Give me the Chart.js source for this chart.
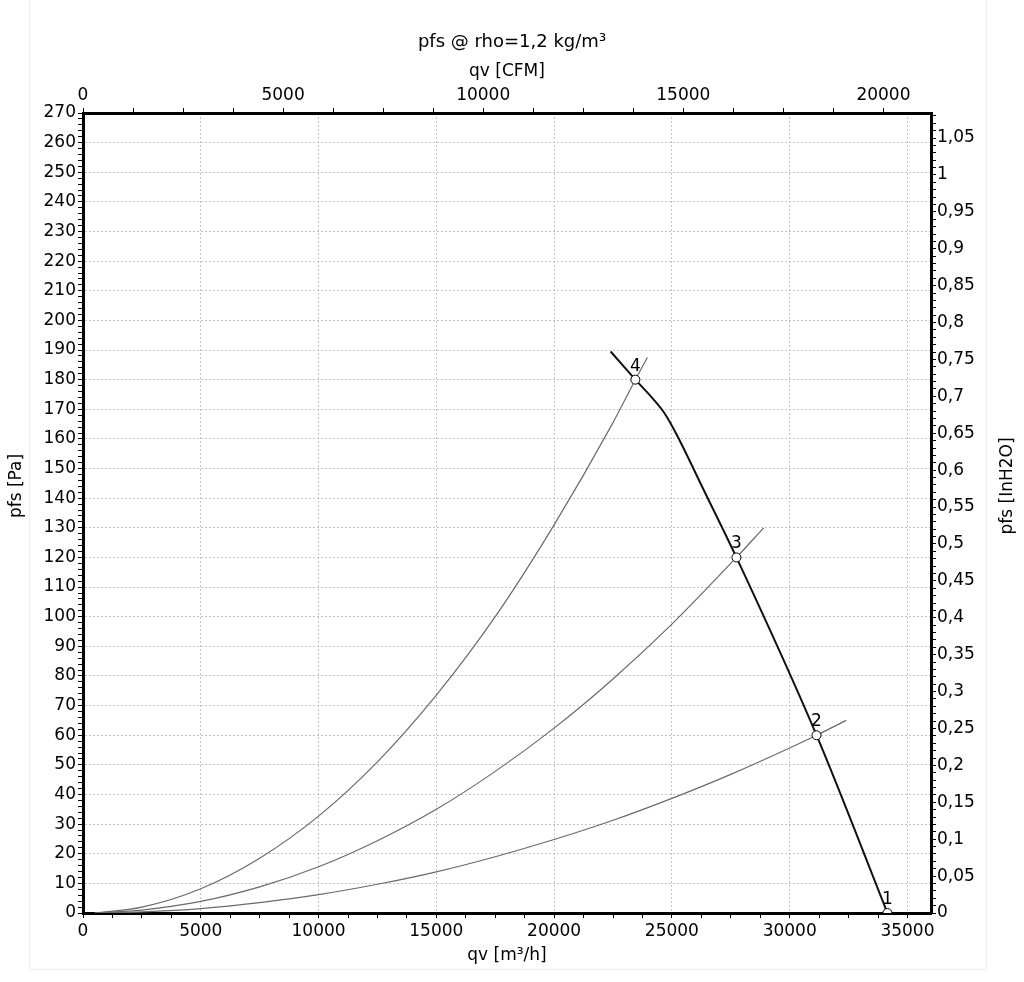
<!DOCTYPE html>
<html>
<head>
<meta charset="utf-8">
<script src="https://cdn.jsdelivr.net/npm/chart.js@4.4.1/dist/chart.umd.min.js"></script>
<style>
html,body{margin:0;padding:0;background:#fff;}
#wrap{position:relative;width:1024px;height:982px;overflow:hidden;}
#frame{position:absolute;left:29px;top:-2px;width:958px;height:972px;border:1px solid #ededed;box-sizing:border-box;pointer-events:none;}
</style>
</head>
<body>
<div id="wrap"><canvas id="c" width="1024" height="982"></canvas><div id="frame"></div></div>
<script>
// ---- data ----
const FAN_Q = [22400, 23450, 24200, 24700, 25200, 26300, 27740, 31140, 34150];
const FAN_P = [189.5, 180, 173.5, 168.5, 161.5, 143.6, 120, 60, 0];

const SYS4_Q = [500, 2500, 5000, 7500, 10000, 12500, 15000, 17500, 20000, 22500, 23450, 23960];
const SYS4_P = [0, 2, 8.2, 18.5, 32.7, 51, 73.5, 100, 131, 165.5, 180, 187.5];

const SYS3_Q = [500, 2500, 5000, 7500, 10000, 12500, 15000, 17500, 20000, 22500, 25000, 27740, 28900];
const SYS3_P = [0, 1, 3.9, 8.8, 15.6, 24.4, 35, 47.8, 62.4, 79, 97.5, 120, 130];

const SYS2_Q = [500, 2500, 5000, 7500, 10000, 12500, 15000, 17500, 20000, 22500, 25000, 27500, 30000, 31140, 32400];
const SYS2_P = [0, 0.4, 1.5, 3.5, 6.2, 9.7, 13.9, 19, 24.8, 31.3, 38.7, 46.8, 55.7, 60, 65];

const OP_Q = [34150, 31140, 27740, 23450];
const OP_P = [0, 60, 120, 180];
const OP_LABELS = ['1', '2', '3', '4'];

// axes
const X_MIN = 0, X_MAX = 36000;
const X_LABELS = [0, 5000, 10000, 15000, 20000, 25000, 30000, 35000];      // m³/h
const X2_LABELS = [0, 5000, 10000, 15000, 20000];                           // CFM
const X_MINOR = 1250, X2_MINOR = 1250;
const Y_MIN = 0, Y_MAX = 270, Y_STEP = 2, Y_LABEL_STEP = 10;
const Y2_STEP = 0.01, Y2_LABEL_STEP = 0.05;
const M3H_PER_CFM = 1.69901;
const PA_PER_INH2O = 249.089;

const TITLE = 'pfs @ rho=1,2 kg/m³';
const X_TITLE = 'qv [m³/h]';
const X2_TITLE = 'qv [CFM]';
const Y_TITLE = 'pfs [Pa]';
const Y2_TITLE = 'pfs [InH2O]';

// ---- helpers ----
const pts = (qs, ps) => qs.map((q, i) => ({x: q, y: ps[i]}));
const FONT = 'DejaVu Sans';
const FS = 17;
const GRID = '#c4c4c4';
const NONE = 'rgba(0,0,0,0)';

Chart.defaults.font.family = FONT;
Chart.defaults.font.size = FS;
Chart.defaults.color = '#000';

function minorTicks(labels, step, max) {
  const out = [];
  const last = labels[labels.length - 1];
  for (let v = labels[0]; v <= Math.min(max, last + step * 3); v += step) {
    if (v <= max) out.push({value: v});
  }
  return out;
}
const inList = (v, list) => list.some(l => Math.abs(l - v) < 1e-6);

const annot = {
  id: 'annot',
  afterDatasetsDraw(chart) {
    const ctx = chart.ctx;
    const meta = chart.getDatasetMeta(0);
    ctx.save();
    ctx.font = FS + 'px "' + FONT + '"';
    ctx.fillStyle = '#000';
    ctx.textAlign = 'center';
    ctx.textBaseline = 'bottom';
    meta.data.forEach((el, i) => ctx.fillText(OP_LABELS[i], el.x, el.y - 5));
    ctx.restore();
  },
  afterDraw(chart) {
    const ctx = chart.ctx;
    const cy = chart.height / 2 - 5;
    ctx.save();
    ctx.font = FS + 'px "' + FONT + '"';
    ctx.fillStyle = '#000';
    ctx.textAlign = 'center';
    ctx.textBaseline = 'middle';
    ctx.translate(17, cy); ctx.rotate(-Math.PI / 2); ctx.fillText(Y_TITLE, 0, 0);
    ctx.setTransform(1, 0, 0, 1, 0, 0);
    ctx.translate(1008, cy); ctx.rotate(-Math.PI / 2); ctx.fillText(Y2_TITLE, 0, 0);
    ctx.restore();
  }
};

const isMult = (v, m) => Math.abs(v / m - Math.round(v / m)) < 1e-6;

new Chart(document.getElementById('c'), {
  type: 'scatter',
  data: {
    datasets: [
      {
        label: 'op', data: pts(OP_Q, OP_P), showLine: false, order: 0,
        pointRadius: 4.5, pointHoverRadius: 4.5, pointBackgroundColor: '#fff',
        pointBorderColor: '#000', pointBorderWidth: 1,
        clip: {left: 10, top: 10, right: 10, bottom: 0}
      },
      {
        label: 'fan', data: pts(FAN_Q, FAN_P), showLine: true, order: 1,
        borderColor: '#111', borderWidth: 2, pointRadius: 0, cubicInterpolationMode: 'monotone'
      },
      {
        label: 'sys4', data: pts(SYS4_Q, SYS4_P), showLine: true, order: 2,
        borderColor: '#6a6a6a', borderWidth: 1.2, pointRadius: 0, cubicInterpolationMode: 'monotone'
      },
      {
        label: 'sys3', data: pts(SYS3_Q, SYS3_P), showLine: true, order: 2,
        borderColor: '#6a6a6a', borderWidth: 1.2, pointRadius: 0, cubicInterpolationMode: 'monotone'
      },
      {
        label: 'sys2', data: pts(SYS2_Q, SYS2_P), showLine: true, order: 2,
        borderColor: '#6a6a6a', borderWidth: 1.2, pointRadius: 0, cubicInterpolationMode: 'monotone'
      }
    ]
  },
  options: {
    responsive: false,
    animation: false,
    devicePixelRatio: 1,
    layout: {padding: 0},
    events: [],
    plugins: {
      legend: {display: false},
      tooltip: {enabled: false},
      title: {
        display: true, text: TITLE, color: '#000',
        font: {family: FONT, size: 18, weight: 'normal'},
        padding: {top: 32, bottom: 0}
      }
    },
    scales: {
      x: {
        type: 'linear', position: 'bottom', min: X_MIN, max: X_MAX,
        afterFit: s => { s.height = 69; },
        afterBuildTicks: s => { s.ticks = minorTicks(X_LABELS, X_MINOR, X_MAX); },
        ticks: {
          autoSkip: false, maxRotation: 0, padding: 3,
          font: {family: FONT, size: FS}, color: '#000',
          callback: v => inList(v, X_LABELS) ? String(v) : ''
        },
        grid: {
          color: c => (c.tick && inList(c.tick.value, X_LABELS)) ? GRID : NONE,
          tickColor: '#000', tickLength: 5, lineWidth: 1, tickWidth: 1
        },
        border: {display: true, color: '#000', width: 3, dash: [2, 2]},
        title: {display: true, text: X_TITLE, color: '#000', font: {family: FONT, size: FS}, padding: {top: 0, bottom: 16}}
      },
      x2: {
        type: 'linear', position: 'top', min: X_MIN / M3H_PER_CFM, max: X_MAX / M3H_PER_CFM,
        afterFit: s => { s.height = 59.4; },
        afterBuildTicks: s => { s.ticks = minorTicks(X2_LABELS, X2_MINOR, X_MAX / M3H_PER_CFM); },
        ticks: {
          autoSkip: false, maxRotation: 0, padding: 2,
          font: {family: FONT, size: FS}, color: '#000',
          callback: v => inList(v, X2_LABELS) ? String(v) : ''
        },
        grid: {drawOnChartArea: false, color: NONE, tickColor: '#000', tickLength: 5, tickWidth: 1},
        border: {display: true, color: '#000', width: 3},
        title: {display: true, text: X2_TITLE, color: '#000', font: {family: FONT, size: FS}, padding: {top: 8, bottom: 0}}
      },
      y: {
        type: 'linear', position: 'left', min: Y_MIN, max: Y_MAX,
        afterFit: s => { s.width = 83; },
        ticks: {
          stepSize: Y_STEP, autoSkip: false, includeBounds: false, padding: 2,
          font: {family: FONT, size: FS}, color: '#000',
          callback: v => isMult(v, Y_LABEL_STEP) ? String(v) : ''
        },
        grid: {
          color: c => (c.tick && isMult(c.tick.value, Y_LABEL_STEP)) ? GRID : NONE,
          tickColor: '#000', tickLength: 5, lineWidth: 1, tickWidth: 1
        },
        border: {display: true, color: '#000', width: 3, dash: [2, 2]}
      },
      y2: {
        type: 'linear', position: 'right', min: Y_MIN / PA_PER_INH2O, max: Y_MAX / PA_PER_INH2O,
        afterFit: s => { s.width = 93; },
        ticks: {
          stepSize: Y2_STEP, autoSkip: false, includeBounds: false, padding: 1,
          font: {family: FONT, size: FS}, color: '#000',
          callback: v => isMult(v, Y2_LABEL_STEP) ? String(Math.round(v * 100) / 100).replace('.', ',') : ''
        },
        grid: {drawOnChartArea: false, color: NONE, tickColor: '#000', tickLength: 5, tickWidth: 1},
        border: {display: true, color: '#000', width: 3}
      }
    }
  },
  plugins: [annot]
});
</script>
</body>
</html>
